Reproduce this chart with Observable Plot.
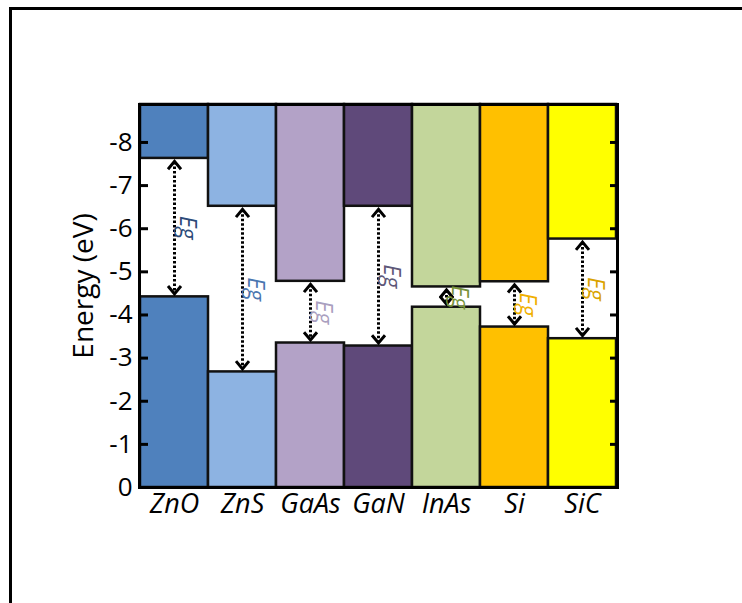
<!DOCTYPE html>
<html>
<head>
<meta charset="utf-8">
<script src="https://cdn.jsdelivr.net/npm/d3@7"></script>
<script src="https://cdn.jsdelivr.net/npm/@observablehq/plot@0.6"></script>
<style>
  html, body { margin: 0; padding: 0; background: #fff; }
  #wrap { position: relative; width: 742px; height: 603px; overflow: hidden; }
  #border { position: absolute; left: 9px; top: 7px; width: 760px; height: 620px;
            border-top: 3px solid #000; border-left: 3px solid #000; box-sizing: border-box; }
  #chart { position: absolute; left: 0; top: 0; }
</style>
</head>
<body>
<div id="wrap"><div id="border"></div><div id="chart"></div></div>
<script>
// Materials and band-edge energies (eV)
const materials = ["ZnO", "ZnS", "GaAs", "GaN", "InAs", "Si", "SiC"];
const upperBand = [-7.63, -6.52, -4.78, -6.52, -4.65, -4.77, -5.76]; // bar from here up to top
const lowerBand = [-4.42, -2.68, -3.35, -3.28, -4.18, -3.72, -3.45]; // bar from 0 up to here
const barColors = ["#4f81bd", "#8db3e2", "#b3a2c7", "#5f497a", "#c3d69b", "#ffc000", "#ffff00"];
const egColors  = ["#2c4a78", "#4a76b0", "#aaa0bf", "#5e5878", "#77933c", "#f0b000", "#d9a300"];
const yTicks = [0, -1, -2, -3, -4, -5, -6, -7, -8];
const yTop = -8.88;

const rows = materials.map((m, i) => ({
  name: m, upper: upperBand[i], lower: lowerBand[i], color: barColors[i], eg: egColors[i]
}));

const chevron = {
  draw(context, size) {
    const r = Math.sqrt(size / Math.PI);
    context.moveTo(-r, r * 1.2);
    context.lineTo(0, 0);
    context.lineTo(r, r * 1.2);
  }
};

const font = "'Open Sans', 'DejaVu Sans', sans-serif";

const chart = Plot.plot({
  width: 742,
  height: 603,
  marginLeft: 139,
  marginRight: 125,
  marginTop: 104,
  marginBottom: 116,
  style: { fontFamily: font, background: "transparent", color: "#000" },
  x: { type: "band", domain: materials, padding: 0 },
  y: { domain: [0, yTop] },
  marks: [
    Plot.barY(rows, { x: "name", y1: 0, y2: "lower", fill: "color", stroke: "#111", strokeWidth: 2.5 }),
    Plot.barY(rows, { x: "name", y1: "upper", y2: yTop, fill: "color", stroke: "#111", strokeWidth: 2.5 }),
    Plot.ruleX(rows, { x: "name", y1: "upper", y2: "lower", stroke: "#000", strokeWidth: 3,
                        strokeDasharray: "2.5,2", insetTop: 4, insetBottom: 4 }),
    Plot.dot(rows, { x: "name", y: "upper", symbol: chevron, r: 6.5, fill: "none",
                     stroke: "#000", strokeWidth: 3, dy: 3 }),
    Plot.dot(rows, { x: "name", y: "lower", symbol: chevron, r: 6.5, fill: "none",
                     stroke: "#000", strokeWidth: 3, dy: -3, rotate: 180 }),
    Plot.text(rows, { x: "name", y: d => (d.upper + d.lower) / 2, text: () => "Eg", rotate: 90,
                      dx: 13, fontStyle: "italic", fontSize: 23, fill: "eg" }),
    Plot.frame({ stroke: "#000", strokeWidth: 3 }),
    Plot.axisY({ anchor: "left", ticks: yTicks, tickFormat: d => String(d), tickSize: -9,
                 tickPadding: 16, strokeWidth: 3, fontSize: 26, label: null }),
    Plot.axisY({ anchor: "right", ticks: yTicks.filter(d => d !== 0), tickFormat: () => "", tickSize: -8,
                 strokeWidth: 3, label: null }),
    Plot.axisX({ anchor: "bottom", tickSize: 0, tickPadding: 6, fontSize: 27, fontStyle: "italic", label: null }),
    Plot.text(["Energy (eV)"], { frameAnchor: "left", textAnchor: "middle", dx: -55, dy: -10, rotate: -90,
                                 fontSize: 28, text: d => d })
  ]
});
document.getElementById("chart").appendChild(chart);
</script>
</body>
</html>
